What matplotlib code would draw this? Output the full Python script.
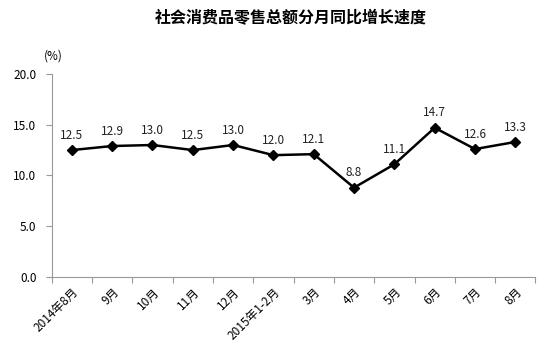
import matplotlib
matplotlib.use("Agg")
import matplotlib.pyplot as plt

plt.rcParams['font.family'] = ['Noto Sans CJK SC', 'DejaVu Sans']

categories = ["2014年8月", "9月", "10月", "11月", "12月", "2015年1-2月",
              "3月", "4月", "5月", "6月", "7月", "8月"]
values = [12.5, 12.9, 13.0, 12.5, 13.0, 12.0, 12.1, 8.8, 11.1, 14.7, 12.6, 13.3]
yticks = [0.0, 5.0, 10.0, 15.0, 20.0]

fig = plt.figure(figsize=(5.51, 3.52), dpi=100)
ax = fig.add_axes([0.0938, 0.213, 0.878, 0.577])

x = list(range(len(categories)))
ax.plot(x, values, color='black', lw=1.8, marker='D', markersize=5.5,
        markerfacecolor='black', markeredgecolor='black', zorder=3)
for xi, v in zip(x, values):
    ax.annotate(f"{v:.1f}", (xi, v), xytext=(0, 6), textcoords='offset points',
                ha='center', va='bottom', fontsize=8.5, color='#222222')

ax.set_xlim(-0.5, len(categories) - 0.5)
ax.set_ylim(0, 20)
ax.set_yticks(yticks)
ax.set_yticklabels([f"{t:.1f}" for t in yticks], fontsize=8.5)

ax.set_xticks([i - 0.5 for i in range(len(categories) + 1)])
ax.set_xticklabels([])
ax.set_xticks(x, minor=True)
ax.set_xticklabels(categories, minor=True, rotation=45, ha='right',
                   rotation_mode='anchor', fontsize=8.5)
ax.tick_params(axis='x', which='minor', length=0, pad=6)
ax.tick_params(axis='x', which='major', length=4, color='#999999', direction='out')
ax.tick_params(axis='y', length=4, color='#999999', direction='out', pad=7)

for s in ['top', 'right']:
    ax.spines[s].set_visible(False)
for s in ['left', 'bottom']:
    ax.spines[s].set_color('#999999')
    ax.spines[s].set_linewidth(0.8)

fig.text(0.096, 0.840, "(%)", fontsize=8.5, ha='center', va='center')
fig.text(0.527, 0.948, "社会消费品零售总额分月同比增长速度", fontsize=11.5,
         fontweight='bold', ha='center', va='center')

fig.savefig("out.png", dpi=100)
